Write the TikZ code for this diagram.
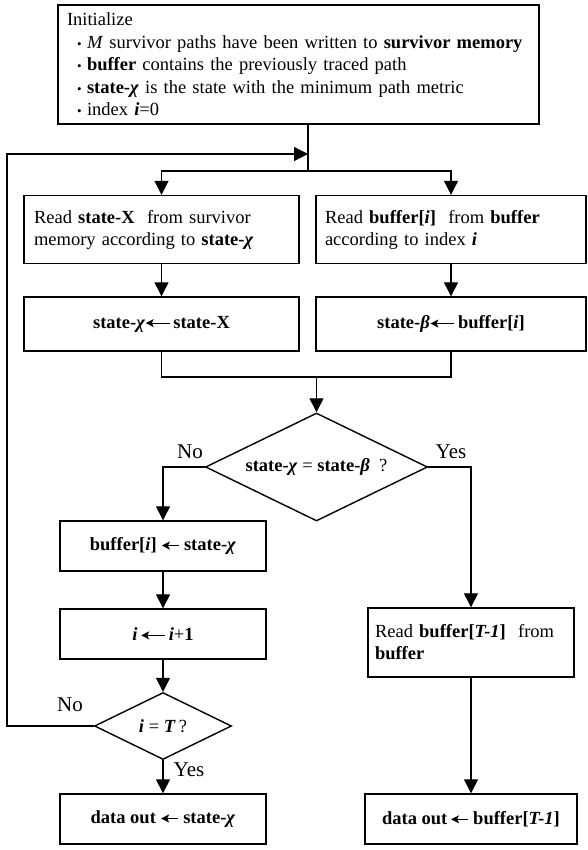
\documentclass[tikz,border=0pt]{standalone}
\usepackage{fontspec}
\setmainfont{Liberation Serif}
\usetikzlibrary{arrows.meta,shapes.geometric}
\newcommand\mybul{\hspace*{10pt}\makebox[10pt][l]{\raisebox{0.3pt}{\fontsize{13}{13}\selectfont\textbullet}}}
\newcommand\chiit{\textit{χ}}
\newcommand\betait{\textit{β}}
\newcommand\larr[1]{\tikz[x=1pt,y=1pt,baseline=-5pt]\draw[line width=1.1pt,-{Stealth[length=8pt,width=8pt,inset=2pt]}] (#1,0) -- (0,0);}
\begin{document}
\begin{tikzpicture}[x=1pt,y=-1pt,
  every node/.style={font=\fontsize{18.5}{22.5}\selectfont},
  box/.style={draw, line width=1.4pt, inner sep=0pt},
  dia/.style={draw, diamond, line width=1.4pt, inner sep=0pt},
  arr/.style={-{Triangle[length=14pt,width=14pt]}, line width=1.3pt},
  ln/.style={line width=1.3pt},
  yn/.style={font=\fontsize{21}{21}\selectfont, inner sep=0pt}]
\useasboundingbox (0,0) rectangle (587,850);

\node[box, minimum width=481, minimum height=119, text width=463, align=left, inner xsep=9pt] (init) at (298.5,64.5) {%
Initialize\\
\mybul\textit{M} survivor paths have been written to \textbf{survivor memory}\\
\mybul\textbf{buffer} contains the previously traced path\\
\mybul\textbf{state-\chiit} is the state with the minimum path metric\\
\mybul index \textbf{\textit{i}}=0};

\node[box, minimum width=275, minimum height=68, text width=255, align=left, inner xsep=10pt, font=\fontsize{18.5}{22}\selectfont] (rx) at (161.5,229.5) {Read \textbf{state-X}\ \ from survivor\\memory according to \textbf{state-\chiit}};
\node[box, minimum width=270, minimum height=68, text width=252, align=left, inner xsep=9pt, font=\fontsize{18.5}{22}\selectfont] (ry) at (451,229.5) {Read \textbf{buffer[\textit{i}]}\ \ from \textbf{buffer}\\according to index \textbf{\textit{i}}};

\node[box, minimum width=275, minimum height=54] (sx) at (161.5,324) {\textbf{state-\chiit}\larr{24}\,\textbf{state-X}};
\node[box, minimum width=270, minimum height=54] (sy) at (451,324) {\textbf{state-\betait}\larr{24}\,\textbf{buffer[\textit{i}]}};

\node[dia, minimum width=222, minimum height=108] (d1) at (316.5,467) {};
\node[inner sep=0pt] (d1t) at (d1.center) {\textbf{state-\chiit} = \textbf{state-\betait}\ \ ?};

\node[box, minimum width=206, minimum height=50] (bx) at (163,546) {\textbf{buffer[\textit{i}]}\ \larr{17}\ \textbf{state-\chiit}};
\node[box, minimum width=206, minimum height=50] (ix) at (163,634) {\textbf{\textit{i}}\,\larr{24}\,\textbf{\textit{i}}+\textbf{1}};

\node[dia, minimum width=137, minimum height=67] (d2) at (163,726) {};
\node[inner sep=0pt] (d2t) at (d2.center) {\textbf{\textit{i}} = \textbf{\textit{T}}\,?};

\node[box, minimum width=206, minimum height=50] (dl) at (163,819) {\textbf{data out}\ \larr{17}\ \textbf{state-\chiit}};

\node[box, minimum width=206, minimum height=69, text width=192, align=left, inner xsep=7pt, font=\fontsize{18.5}{22}\selectfont] (rb) at (471,642.5) {Read \textbf{buffer[\textit{T-1}]}\ \ from\\\textbf{buffer}};
\node[box, minimum width=212, minimum height=50] (dr) at (471,819) {\textbf{data out}\,\larr{17}\ \textbf{buffer[\textit{T-1}]}};

\node[yn] (no1) at (190,452) {No};
\node[yn] (yes1) at (451,452) {Yes};
\node[yn] (no2) at (70,705) {No};
\node[yn] (yes2) at (189,770) {Yes};

\coordinate (j1) at (308,154);
\coordinate (j2) at (308,171);
\coordinate (lp) at (7,154);
\coordinate (m) at (316.5,377);

\draw[ln] (j1 |- init.south) -- (j2);
\draw[arr] (d2.west) -| (lp) -- (j1);
\draw[arr] (j2) -| (rx.north);
\draw[arr] (j2) -| (ry.north);
\draw[arr] (rx.south) -- (sx.north);
\draw[arr] (ry.south) -- (sy.north);
\draw[ln] (sx.south) |- (m);
\draw[ln] (sy.south) |- (m);
\draw[arr] (m) -- (d1.north);
\draw[arr] (d1.west) -| (bx.north);
\draw[arr] (d1.east) -| (rb.north);
\draw[arr] (bx.south) -- (ix.north);
\draw[arr] (ix.south) -- (d2.north);
\draw[arr] (d2.south) -- (dl.north);
\draw[arr] (rb.south) -- (dr.north);
\end{tikzpicture}
\end{document}
